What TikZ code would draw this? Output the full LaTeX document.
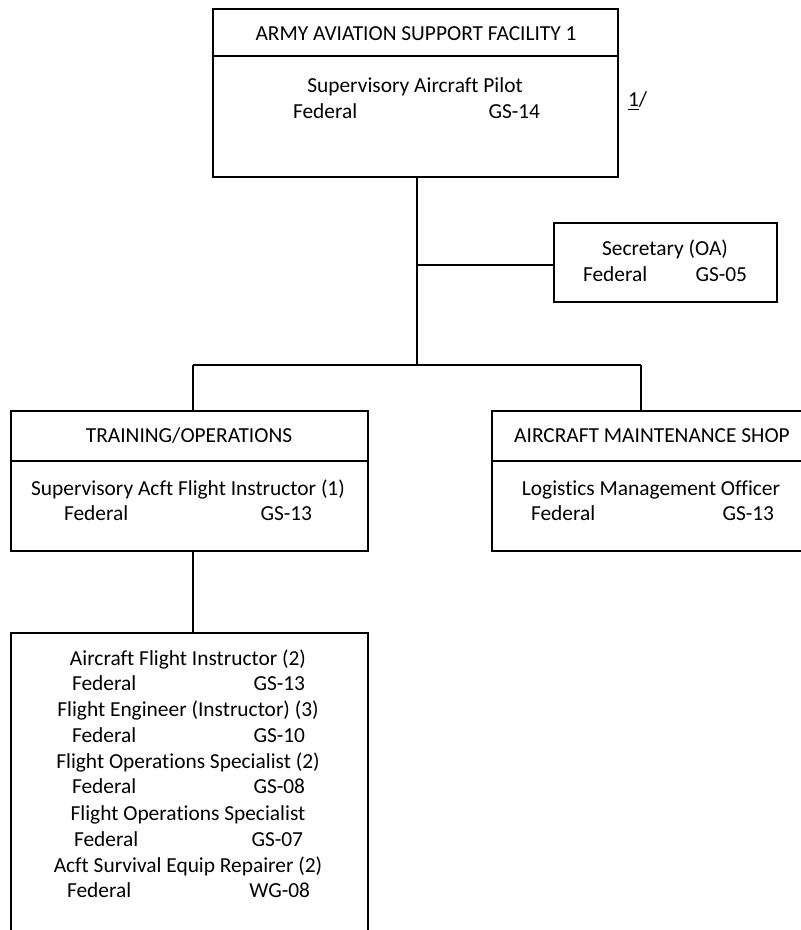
\documentclass[tikz,border=0pt]{standalone}
\usepackage{fontspec}
\setmainfont{Carlito}[Ligatures=NoCommon]
\usetikzlibrary{fit}
\begin{document}
\begin{tikzpicture}[x=0.5pt, y=-0.5pt,
    line width=1pt,
    box/.style={draw, line width=1pt, inner sep=0pt, rectangle},
    txt/.style={inner sep=0pt, font=\fontsize{10.7}{12.8}\selectfont},
    ctr/.style={txt, anchor=base},
    lft/.style={txt, anchor=base west},
    rgt/.style={txt, anchor=base east},
    link/.style={draw, line width=1pt}]
  \useasboundingbox (0,0) rectangle (801,930);
  \clip (0,0) rectangle (801,930);

  % facility head
  \node[box, fit={(213,9) (618,56)}] (tophead) {};
  \node[box, fit={(213,56) (618,177)}] (topbody) {};
  \node[ctr] (toptitle) at (416,41) {ARMY AVIATION SUPPORT FACILITY 1};
  \node[ctr] (toppos) at (415,93) {Supervisory Aircraft Pilot};
  \node[lft] (topfed) at (292,119) {Federal};
  \node[rgt] (topgrade) at (541,119) {GS-14};
  \node[lft] (note) at (627,107) {\underline{1}/};

  % secretary
  \node[box, fit={(554,223) (777,302)}] (sec) {};
  \node[ctr] (secpos) at (665,256) {Secretary (OA)};
  \node[lft] (secfed) at (582,282) {Federal};
  \node[rgt] (secgrade) at (748,282) {GS-05};

  % training / operations
  \node[box, fit={(11,411) (368,461)}] (trhead) {};
  \node[box, fit={(11,461) (368,551)}] (trbody) {};
  \node[ctr] (trtitle) at (189,442) {TRAINING/OPERATIONS};
  \node[ctr] (trpos) at (188,495) {Supervisory Acft Flight Instructor (1)};
  \node[lft] (trfed) at (63,520) {Federal};
  \node[rgt] (trgrade) at (313,520) {GS-13};

  % aircraft maintenance shop
  \node[box, fit={(492,411) (812,461)}] (mxhead) {};
  \node[box, fit={(492,461) (812,551)}] (mxbody) {};
  \node[ctr] (mxtitle) at (652,442) {AIRCRAFT MAINTENANCE SHOP};
  \node[ctr] (mxpos) at (651,495) {Logistics Management Officer};
  \node[lft] (mxfed) at (530,520) {Federal};
  \node[rgt] (mxgrade) at (775,520) {GS-13};

  % training staff
  \node[box, fit={(11,633) (368,945)}] (staff) {};
  \node[ctr] (s1) at (188,665) {Aircraft Flight Instructor (2)};
  \node[lft] (s1f) at (71,690) {Federal};
  \node[rgt] (s1g) at (306,690) {GS-13};
  \node[ctr] (s2) at (188,716) {Flight Engineer (Instructor) (3)};
  \node[lft] (s2f) at (71,742) {Federal};
  \node[rgt] (s2g) at (306,742) {GS-10};
  \node[ctr] (s3) at (188,768) {Flight Operations Specialist (2)};
  \node[lft] (s3f) at (71,793) {Federal};
  \node[rgt] (s3g) at (306,793) {GS-08};
  \node[ctr] (s4) at (188,820) {Flight Operations Specialist};
  \node[lft] (s4f) at (73,846) {Federal};
  \node[rgt] (s4g) at (304,846) {GS-07};
  \node[ctr] (s5) at (188,872) {Acft Survival Equip Repairer (2)};
  \node[lft] (s5f) at (66,897) {Federal};
  \node[rgt] (s5g) at (311,897) {WG-08};

  % connectors
  \coordinate (bus) at (417,365);
  \coordinate (dropL) at (193,365);
  \coordinate (dropR) at (641,365);
  \coordinate (secjoin) at (417,265);
  \draw[link] (topbody.south -| bus) -- (bus);
  \draw[link] (secjoin) -- (secjoin -| sec.west);
  \draw[link] (dropL) -- (dropR);
  \draw[link] (dropL) -- (dropL |- trhead.north);
  \draw[link] (dropR) -- (dropR |- mxhead.north);
  \draw[link] (trbody.south -| dropL) -- (dropL |- staff.north);
\end{tikzpicture}
\end{document}
